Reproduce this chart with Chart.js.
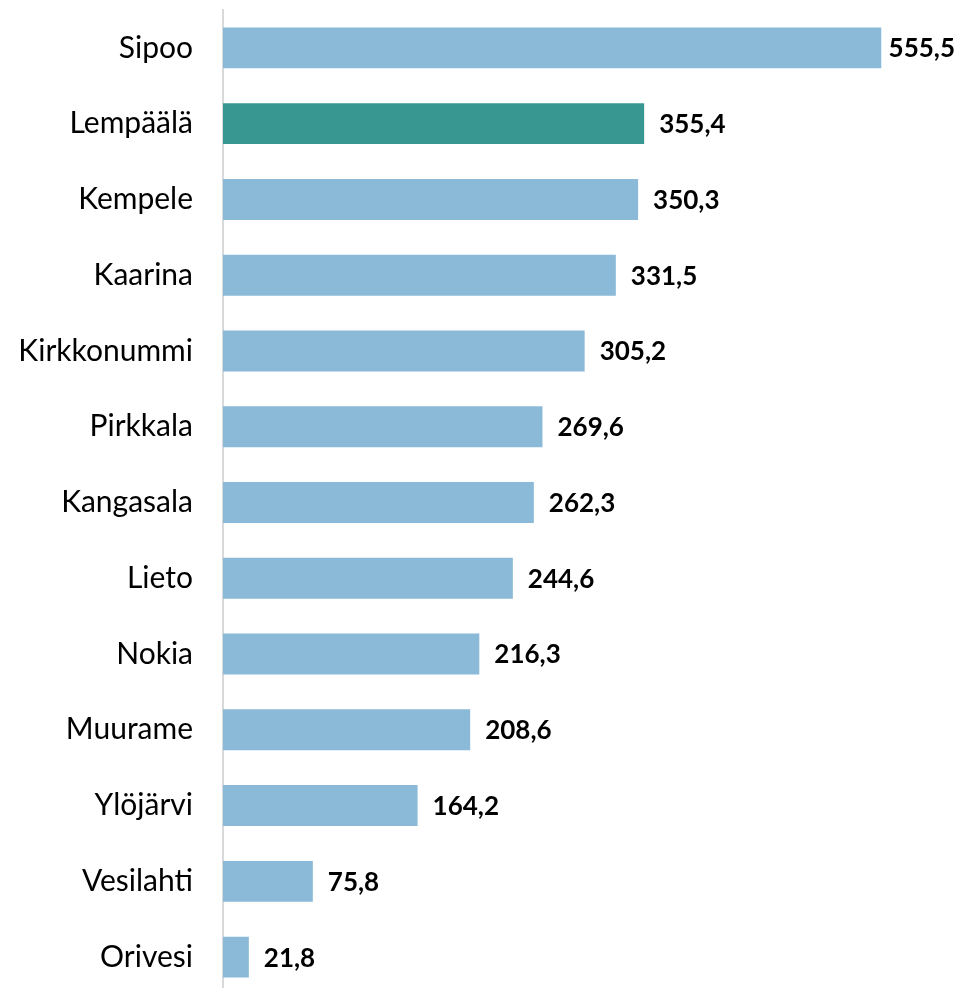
<!DOCTYPE html>
<html>
<head>
<meta charset="utf-8">
<script src="https://cdn.jsdelivr.net/npm/chart.js@4"></script>
<style>
    html, body { margin: 0; padding: 0; background: #fff; overflow: hidden; }
    #wrap { width: 961px; height: 996px; }
</style>
</head>
<body>
<div id="wrap"><canvas id="barChart" width="961" height="996"></canvas></div>
<script>
const municipalities = ["Sipoo", "Lempäälä", "Kempele", "Kaarina", "Kirkkonummi", "Pirkkala",
    "Kangasala", "Lieto", "Nokia", "Muurame", "Ylöjärvi", "Vesilahti", "Orivesi"];
const values = [555.5, 355.4, 350.3, 331.5, 305.2, 269.6, 262.3, 244.6, 216.3, 208.6, 164.2, 75.8, 21.8];
const highlighted = "Lempäälä";

const baseColor = "#8abad7";
const highlightColor = "#389790";

function formatValue(v) {
    return v.toFixed(1).replace(".", ",");
}

// draws the bold value next to each bar end
const valueLabels = {
    id: "valueLabels",
    afterDatasetsDraw(chart) {
        const ctx = chart.ctx;
        const meta = chart.getDatasetMeta(0);
        ctx.save();
        ctx.font = "bold 26px Lato";
        ctx.fillStyle = "#000";
        ctx.textBaseline = "middle";
        meta.data.forEach((bar, i) => {
            const text = formatValue(values[i]);
            const w = ctx.measureText(text).width;
            let x = bar.x + 15;
            if (x + w > chart.width - 6) {
                x = chart.width - 6 - w;
            }
            ctx.fillText(text, x, bar.y + 1);
        });
        ctx.restore();
    }
};

new Chart(document.getElementById("barChart"), {
    type: "bar",
    data: {
        labels: municipalities,
        datasets: [{
            data: values,
            backgroundColor: municipalities.map(m => m === highlighted ? highlightColor : baseColor),
            barPercentage: 0.54,
            categoryPercentage: 1
        }]
    },
    options: {
        indexAxis: "y",
        responsive: false,
        animation: false,
        layout: {
            padding: { top: 10, right: 27, bottom: 1, left: 0 }
        },
        plugins: {
            legend: { display: false },
            tooltip: { enabled: false }
        },
        scales: {
            x: {
                min: 0,
                max: 600,
                display: false
            },
            y: {
                grid: { display: false, drawTicks: false },
                border: { display: true, color: "#d9d9d9", width: 2 },
                ticks: {
                    color: "#000",
                    padding: 30,
                    font: { family: "Lato", size: 30 }
                },
                afterFit(scale) {
                    scale.width = 223;
                    // labels sit in the band centres, no extra room needed above/below
                    scale.paddingTop = 0;
                    scale.paddingBottom = 0;
                }
            }
        }
    },
    plugins: [valueLabels]
});
</script>
</body>
</html>
